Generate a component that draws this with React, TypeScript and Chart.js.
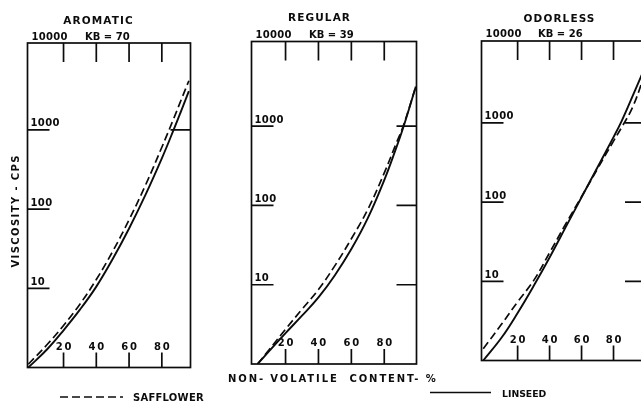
import { useEffect, useRef } from 'react';
import { Chart, registerables } from 'chart.js';

Chart.register(...registerables);

// ---------- data ----------
const xTicks = [20, 40, 60, 80];
const yTicks = [10, 100, 1000];
const topLabel = '10000';
const panelTitles = ['AROMATIC', 'REGULAR', 'ODORLESS'];
const kbValues = [70, 39, 26];
const seriesNames = ['SAFFLOWER', 'LINSEED'];
const yAxisTitle = 'VISCOSITY - CPS';
const xAxisTitle = 'NON- VOLATILE  CONTENT- %';

const aromaticContent = [-1.5, 10, 20, 30, 40, 50, 60, 70, 80, 87, 92, 96.5];
const aromaticSafflower = [1.1, 1.95, 3.39, 6.31, 12.9, 29.2, 73.3, 200, 603, 1350, 2450, 4170];
const aromaticLinseed = [1, 1.7, 2.95, 5.37, 10.5, 23.4, 56.9, 151, 437, 977, 1780, 3090];
const aromaticRightTicks = [1000];

const regularContent = [3, 10, 20, 30, 40, 50, 60, 70, 80, 87, 91.5, 99.2];
const regularSafflower = [1, 1.51, 2.75, 4.9, 8.7, 17.4, 38, 89, 257, 589, 1000, 3160];
const regularLinseed = [1, 1.45, 2.45, 4.07, 6.92, 13.2, 28.2, 69.2, 209, 513, 955, 3160];
const regularRightTicks = [1000, 100, 10];

const odorlessContent = [-1.5, 10, 20, 30, 40, 50, 60, 70, 80, 85, 92, 99];
const odorlessSafflower = [1.41, 2.88, 5.5, 10.2, 22.9, 52.5, 117, 263, 589, 871, 1585, 3800];
const odorlessLinseed = [1, 1.95, 3.98, 8.71, 20, 47.9, 115, 275, 661, 1047, 2190, 4680];
const odorlessRightTicks = [1000, 100, 10];

// ---------- layout / style ----------
const W = 660;
const H = 401;
const INK = '#0c0c0c';
const FONT = '"DejaVu Sans", sans-serif';

const panels = [
  {
    content: aromaticContent, saff: aromaticSafflower, lin: aromaticLinseed, rightTicks: aromaticRightTicks,
    box: { left: 27.5, top: 43, right: 190.5, bottom: 367.5 }, xMin: -2, xMax: 97.5, yMax: 12500,
    titleX: 98, titleY: 24, labelY: 40, kbX: 85,
  },
  {
    content: regularContent, saff: regularSafflower, lin: regularLinseed, rightTicks: regularRightTicks,
    box: { left: 251.5, top: 41.5, right: 416.5, bottom: 364 }, xMin: -0.7, xMax: 99.6, yMax: 11700,
    titleX: 319, titleY: 21, labelY: 37.5, kbX: 309,
  },
  {
    content: odorlessContent, saff: odorlessSafflower, lin: odorlessLinseed, rightTicks: odorlessRightTicks,
    box: { left: 481.5, top: 41, right: 645, bottom: 360.5 }, xMin: -2.6, xMax: 99.7, yMax: 10800,
    titleX: 559, titleY: 22, labelY: 37, kbX: 538,
  },
];

function text(ctx: CanvasRenderingContext2D, s: string, x: number, y: number, size: number, spacing: number, align: CanvasTextAlign) {
  ctx.font = `bold ${size}px ${FONT}`;
  (ctx as any).letterSpacing = `${spacing}px`;
  ctx.textAlign = 'left';
  const w = ctx.measureText(s).width - spacing;
  let sx = x;
  if (align === 'center') sx = x - w / 2;
  else if (align === 'right') sx = x - w;
  ctx.fillText(s, sx, y);
}

function makeDecor(idx: number) {
  const p = panels[idx];
  return {
    id: 'decor' + idx,
    afterDraw(chart: any) {
      const { ctx, chartArea: a, scales } = chart;
      const x = scales.x;
      const y = scales.y;
      ctx.save();
      ctx.strokeStyle = INK;
      ctx.fillStyle = INK;
      ctx.lineWidth = 1.7;
      ctx.strokeRect(a.left, a.top, a.right - a.left, a.bottom - a.top);
      ctx.beginPath();
      xTicks.forEach((v) => {
        const px = x.getPixelForValue(v);
        ctx.moveTo(px, a.top);
        ctx.lineTo(px, a.top + 19);
        ctx.moveTo(px, a.bottom);
        ctx.lineTo(px, a.bottom - 15);
      });
      yTicks.forEach((v) => {
        const py = y.getPixelForValue(v);
        ctx.moveTo(a.left, py);
        ctx.lineTo(a.left + 22, py);
      });
      p.rightTicks.forEach((v) => {
        const py = y.getPixelForValue(v);
        ctx.moveTo(a.right, py);
        ctx.lineTo(a.right - 20, py);
      });
      ctx.stroke();
      ctx.textBaseline = 'alphabetic';
      xTicks.forEach((v) => text(ctx, String(v), x.getPixelForValue(v), a.bottom - 18, 10, 1.8, 'center'));
      yTicks.forEach((v) => text(ctx, String(v), a.left + 3, y.getPixelForValue(v) - 3.5, 10, 0.4, 'left'));
      text(ctx, panelTitles[idx], p.titleX, p.titleY, 10.5, 1.1, 'center');
      text(ctx, topLabel, a.left + 4, p.labelY, 10, 0.3, 'left');
      text(ctx, `KB = ${kbValues[idx]}`, p.kbX, p.labelY, 10, 0, 'left');

      if (idx === 0) {
        const ds = chart.data.datasets;
        // legend
        ctx.lineWidth = 1.6;
        ctx.setLineDash(ds[0].borderDash);
        ctx.beginPath();
        ctx.moveTo(60, 397);
        ctx.lineTo(123, 397);
        ctx.stroke();
        ctx.setLineDash([]);
        text(ctx, seriesNames[0], 133, 400.5, 10, 0.25, 'left');
        ctx.beginPath();
        ctx.moveTo(430, 392.5);
        ctx.lineTo(491, 392.5);
        ctx.stroke();
        text(ctx, seriesNames[1], 502, 397, 9.3, 0, 'left');
        // axis titles
        text(ctx, xAxisTitle, 228, 382, 10, 1.9, 'left');
        ctx.save();
        ctx.translate(19.3, 211.5);
        ctx.rotate(-Math.PI / 2);
        text(ctx, yAxisTitle, 0, 0, 10, 1.4, 'center');
        ctx.restore();
      }
      ctx.restore();
    },
  };
}

function Panel({ idx }: { idx: number }) {
  const ref = useRef<HTMLCanvasElement>(null);
  useEffect(() => {
    const p = panels[idx];
    const b = p.box;
    const chart = new Chart(ref.current!, {
      type: 'line',
      data: {
        datasets: [
          {
            label: seriesNames[0],
            data: p.content.map((c, i) => ({ x: c, y: p.saff[i] })),
            borderColor: INK,
            borderWidth: 1.7,
            borderDash: [8, 4],
            pointRadius: 0,
            tension: 0.4,
            fill: false,
          },
          {
            label: seriesNames[1],
            data: p.content.map((c, i) => ({ x: c, y: p.lin[i] })),
            borderColor: INK,
            borderWidth: 1.9,
            pointRadius: 0,
            tension: 0.4,
            fill: false,
          },
        ],
      },
      options: {
        responsive: false,
        animation: false,
        devicePixelRatio: 1,
        events: [],
        layout: { padding: { left: b.left, top: b.top, right: W - b.right, bottom: H - b.bottom } },
        scales: {
          x: { type: 'linear', display: false, min: p.xMin, max: p.xMax },
          y: { type: 'logarithmic', display: false, min: 1, max: p.yMax },
        },
        plugins: { legend: { display: false }, tooltip: { enabled: false }, title: { display: false } },
      },
      plugins: [makeDecor(idx)],
    } as any);
    return () => chart.destroy();
  }, [idx]);
  return (
    <canvas
      ref={ref}
      width={W}
      height={H}
      style={{ position: 'absolute', left: 0, top: 0, width: W, height: H }}
    />
  );
}

export default function App() {
  return (
    <div
      style={{
        position: 'fixed',
        left: 0,
        top: 0,
        width: 641,
        height: 401,
        overflow: 'hidden',
        background: '#ffffff',
      }}
    >
      {panels.map((_, i) => (
        <Panel key={i} idx={i} />
      ))}
    </div>
  );
}
